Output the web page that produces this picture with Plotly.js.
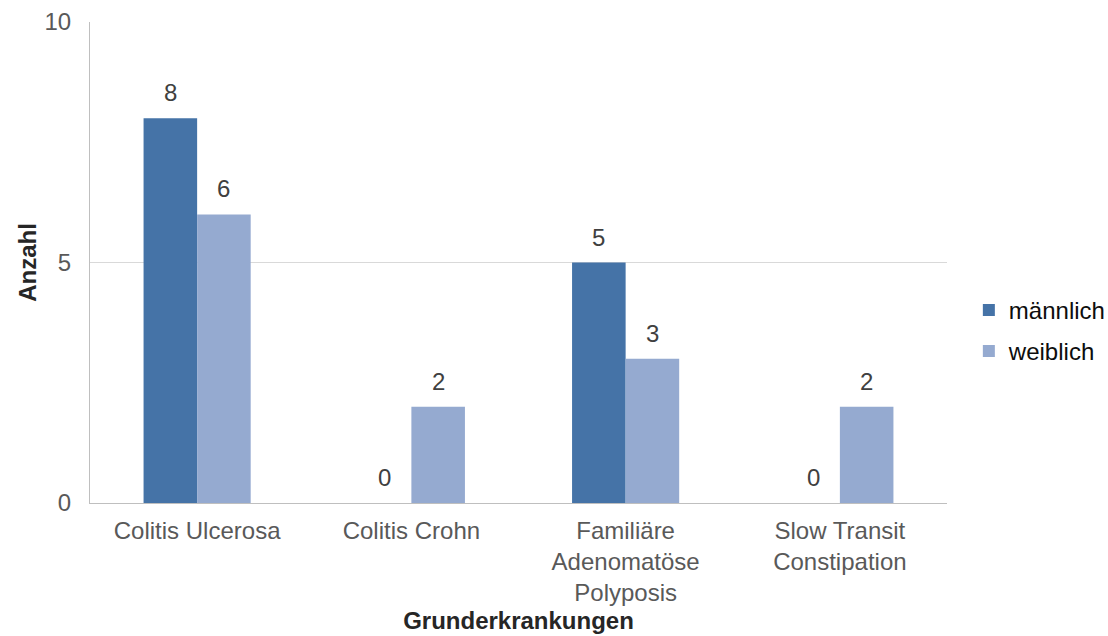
<!DOCTYPE html>
<html><head><meta charset="utf-8">
<script src="https://cdn.plot.ly/plotly-3.0.1.min.js"></script>
<style>body{margin:0}#c{width:1108px;height:636px}</style>
</head><body><div id="c"></div>
<script>
const categories = ["Colitis Ulcerosa", "Colitis Crohn", "Familiäre<br>Adenomatöse<br>Polyposis", "Slow Transit<br>Constipation"];
const maennlich = [8, 0, 5, 0];
const weiblich = [6, 2, 3, 2];
const seriesNames = ["männlich", "weiblich"];
const yTicks = [0, 5, 10];

const font = "Liberation Sans, Arial, sans-serif";
const colors = ["#4573A7", "#95AAD0"];
const allSeries = [maennlich, weiblich];
const traces = allSeries.map((vals, k) => ({
  type:"bar", name:seriesNames[k], legendgroup:"g"+k, x:categories, y:vals,
  marker:{color:colors[k]}, hoverinfo:"none"
}));
const annotations = [];
allSeries.forEach((vals, k) => {
  vals.forEach((v, i) => {
    annotations.push({x:i + (k === 0 ? -0.125 : 0.125), y:v, xref:"x", yref:"y",
      text:String(v), showarrow:false, yanchor:"bottom", yshift:10,
      font:{size:24, color:"#404040", family:font}});
  });
});
const layout = {
  width:1108, height:636,
  margin:{l:90, r:161, t:22, b:133, autoexpand:false},
  paper_bgcolor:"#fff", plot_bgcolor:"#fff",
  font:{family:font, size:24, color:"#595959"},
  barmode:"group", bargap:0.5, bargroupgap:0,
  showlegend:true,
  legend:{x:1.0255, y:0.358, yanchor:"middle", xanchor:"left", font:{size:24, color:"#0D0D0D"},
    traceorder:"grouped", tracegroupgap:7, itemwidth:30},
  annotations:annotations,
  xaxis:{range:[-0.5,3.5], showline:true, linecolor:"#BFBFBF", linewidth:1, ticks:"", ticklabelstandoff:6,
    tickfont:{size:24, color:"#595959"},
    title:{text:"<b>Grunderkrankungen</b>", font:{size:24, color:"#262626"}, standoff:6}},
  yaxis:{range:[0,10], tickvals:yTicks, showline:true, linecolor:"#BFBFBF", linewidth:1,
    showgrid:true, gridcolor:"#D9D9D9", zeroline:false, ticks:"", ticklabelstandoff:13,
    tickfont:{size:24, color:"#595959"},
    title:{text:"<b>Anzahl</b>", font:{size:24, color:"#262626"}, standoff:1}}
};
Plotly.newPlot("c", traces, layout, {displayModeBar:false, staticPlot:true});
</script></body></html>
